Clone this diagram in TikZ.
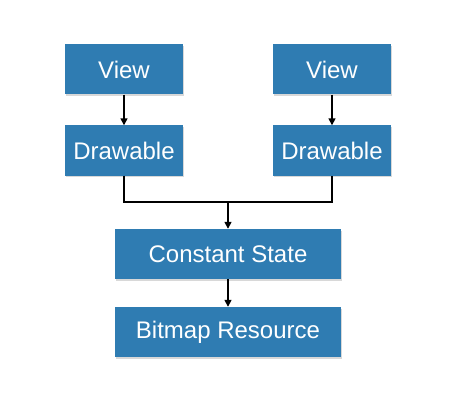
\documentclass[tikz,border=0pt]{standalone}
\usepackage{fontspec}
\setmainfont{Liberation Sans}
\usetikzlibrary{arrows.meta}
\definecolor{boxblue}{RGB}{47,124,178}
\definecolor{shadowgray}{RGB}{190,190,190}
\tikzset{
  box/.style={fill=boxblue, text=white, inner sep=0pt, anchor=center,
    font=\fontsize{24}{26}\selectfont, minimum height=50pt},
  conn/.style={line width=1.5pt, draw=black},
  arr/.style={conn, -{Triangle[length=7pt,width=7pt]}},
}
\begin{document}
\begin{tikzpicture}[x=1pt,y=-1pt]
\useasboundingbox (0,0) rectangle (452,401);
\foreach \n/\cx/\cy/\w/\t in {v1/124/69.5/118/View, d1/124/150.5/118/Drawable, v2/332/69.5/118/View, d2/332/150.5/118/Drawable, cs/228/254/226/Constant State, br/228/332/226/Bitmap Resource}{
  \fill[shadowgray,opacity=0.6] (\cx-\w/2+0.5,\cy-25+1.5) rectangle (\cx+\w/2+0.5,\cy+25+1.5);
  \node[box, minimum width=\w pt] (\n) at (\cx,\cy) {\t};
}
\coordinate (j1) at (124,202);
\coordinate (j2) at (332,202);
\coordinate (jm) at (228,202);
\draw[arr] (v1) -- (d1);
\draw[arr] (v2) -- (d2);
\draw[conn, line join=miter] (d1.south) -- (j1) -- (j2) -- (d2.south);
\draw[arr] (jm) -- (cs);
\draw[arr] (cs) -- (br);
\end{tikzpicture}
\end{document}
